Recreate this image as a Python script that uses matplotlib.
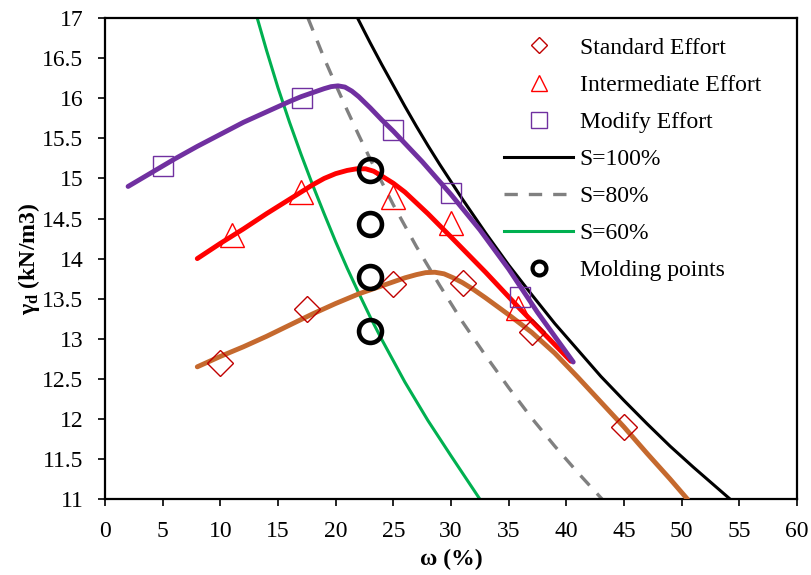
import matplotlib
matplotlib.use("Agg")
import matplotlib.pyplot as plt
from matplotlib.lines import Line2D

plt.rcParams['font.family'] = ['Liberation Serif', 'DejaVu Serif']
plt.rcParams['mathtext.default'] = 'regular'

# measured points (water content %, dry unit weight kN/m3)
std_w = [10, 17.5, 25, 31, 37, 45]
std_g = [12.7, 13.37, 13.68, 13.69, 13.09, 11.9]

int_w = [11, 17, 25, 30, 35.8]
int_g = [14.29, 14.83, 14.77, 14.44, 13.38]

mod_w = [5, 17.1, 25, 30, 36]
mod_g = [15.15, 16.0, 15.6, 14.82, 13.52]

# fitted curves
std_fit_w = [8, 10, 12, 14, 16, 18, 20, 22, 24, 25, 26, 27, 27.8, 28.6, 29.4, 30.2, 31, 32, 33, 35, 37, 39, 41, 43, 45, 47, 49, 50.5]
std_fit_g = [12.65, 12.78, 12.9, 13.03, 13.17, 13.31, 13.44, 13.56, 13.66, 13.71, 13.76, 13.8, 13.825, 13.83, 13.81, 13.76,
             13.7, 13.61, 13.51, 13.3, 13.08, 12.82, 12.52, 12.21, 11.9, 11.57, 11.25, 11.0]

int_fit_w = [8, 10, 12, 14, 16, 17, 18, 19, 20, 21, 21.8, 22.6, 23.3, 24, 25, 26, 28, 30, 33, 36, 40.4]
int_fit_g = [14.0, 14.19, 14.37, 14.56, 14.74, 14.83, 14.92, 15.0, 15.06, 15.1, 15.12, 15.12, 15.09, 15.03, 14.94, 14.83,
             14.56, 14.27, 13.83, 13.37, 12.72]

mod_fit_w = [2, 4, 6, 8, 10, 12, 14, 16, 17, 18, 19, 19.6, 20.2, 20.8, 21.4, 22, 23, 24, 25, 27.5, 30, 32.5, 35, 37.5, 40.6]
mod_fit_g = [14.9, 15.07, 15.24, 15.4, 15.55, 15.7, 15.83, 15.96, 16.02, 16.07, 16.12, 16.145, 16.155, 16.14, 16.09, 16.02,
             15.88, 15.73, 15.59, 15.21, 14.8, 14.36, 13.87, 13.33, 12.71]

# saturation lines
s100_w = [21.9, 22.5, 23, 24, 25, 26, 27, 28, 29, 31, 33, 35, 37, 39, 41, 43, 45, 47, 49, 51, 53, 54.2]
s100_g = [17.0, 16.83, 16.69, 16.42, 16.16, 15.9, 15.65, 15.41, 15.18, 14.74, 14.32, 13.92, 13.55, 13.19, 12.86, 12.53,
          12.23, 11.94, 11.66, 11.4, 11.15, 11.0]

s80_w = [17.6, 18.3, 19, 20, 21, 22, 23, 25, 27, 29, 31, 33, 35, 37, 39, 41, 43.1]
s80_g = [17.0, 16.75, 16.5, 16.17, 15.85, 15.54, 15.24, 14.67, 14.15, 13.67, 13.21, 12.79, 12.39, 12.01, 11.66, 11.33, 11.0]

s60_w = [13.2, 13.6, 14, 15, 16, 17, 18, 19, 20, 21, 22, 23, 24, 26, 28, 30, 32.5]
s60_g = [17.0, 16.8, 16.6, 16.13, 15.7, 15.3, 14.92, 14.56, 14.21, 13.88, 13.57, 13.27, 12.99, 12.46, 11.98, 11.54, 11.0]

mold_w = [23, 23, 23, 23]
mold_g = [15.1, 14.43, 13.77, 13.1]

fig = plt.figure(figsize=(8.11, 5.75), dpi=100)
ax = fig.add_axes([0.1295, 0.132, 0.8532, 0.8365])

ax.plot(s100_w, s100_g, color='black', lw=2.2, zorder=2)
ax.plot(s80_w, s80_g, color='#808080', lw=2.4, ls=(0, (4, 3.3)), zorder=2)
ax.plot(s60_w, s60_g, color='#00B050', lw=2.2, zorder=2)

ax.plot(std_fit_w, std_fit_g, color='#C5692E', lw=3.5, solid_capstyle='round', solid_joinstyle='round', zorder=3)
ax.plot(int_fit_w, int_fit_g, color='#FF0000', lw=3.5, solid_capstyle='round', solid_joinstyle='round', zorder=3)
ax.plot(mod_fit_w, mod_fit_g, color='#7030A0', lw=3.5, solid_capstyle='round', solid_joinstyle='round', zorder=3)

ax.plot(std_w, std_g, ls='none', marker='D', ms=13.5, mfc='none', mec='#C00000', mew=1, zorder=4)
ax.plot(int_w, int_g, ls='none', marker='^', ms=17, mfc='none', mec='#FF0000', mew=1, zorder=4)
ax.plot(mod_w, mod_g, ls='none', marker='s', ms=15, mfc='none', mec='#7030A0', mew=1, zorder=4)
ax.plot(mold_w, mold_g, ls='none', marker='o', ms=16.5, mfc='none', mec='black', mew=3.3, zorder=5)

ax.set_xlim(0, 60)
ax.set_ylim(11, 17)
ax.set_xticks(range(0, 61, 5))
ax.set_yticks([11 + 0.5 * i for i in range(13)])
ax.set_yticklabels(['11', '11.5', '12', '12.5', '13', '13.5', '14', '14.5', '15', '15.5', '16', '16.5', '17'])
ax.tick_params(labelsize=17, direction='out', length=5, width=1.2, colors='black', pad=10.5)
for sp in ax.spines.values():
    sp.set_linewidth(1.6)

ax.set_xlabel('ω (%)', fontsize=17, fontweight='bold', labelpad=5)
ax.set_ylabel('γ$_{d}$ (kN/m3)', fontsize=17, fontweight='bold', labelpad=0)

handles = [
    Line2D([], [], ls='none', marker='D', ms=8.5, mfc='none', mec='#C00000', mew=1),
    Line2D([], [], ls='none', marker='^', ms=11, mfc='none', mec='#FF0000', mew=1),
    Line2D([], [], ls='none', marker='s', ms=11, mfc='none', mec='#7030A0', mew=1),
    Line2D([], [], color='black', lw=2.2),
    Line2D([], [], color='#808080', lw=2.4, ls=(0, (4, 3.3))),
    Line2D([], [], color='#00B050', lw=2.2),
    Line2D([], [], ls='none', marker='o', ms=10, mfc='none', mec='black', mew=3),
]
labels = ['Standard Effort', 'Intermediate Effort', 'Modify Effort', 'S=100%', 'S=80%', 'S=60%', 'Molding points']
ax.legend(handles, labels, loc='upper left', bbox_to_anchor=(0.56, 0.985), frameon=False,
          fontsize=17, handlelength=2.9, handletextpad=0.3, labelspacing=0.66, borderpad=0)

fig.savefig('out.png', dpi=100)
